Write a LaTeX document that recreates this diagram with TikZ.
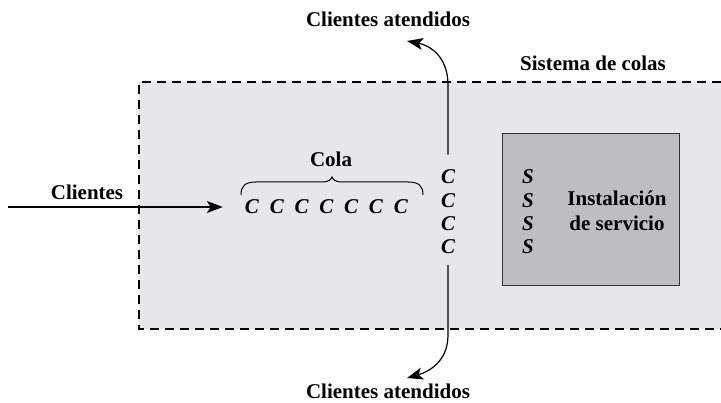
\documentclass[tikz,border=0pt]{standalone}
\usepackage{fontspec}
\setmainfont{Liberation Serif}
\usetikzlibrary{arrows.meta}

\definecolor{sysgray}{RGB}{230,231,232}
\definecolor{srvgray}{RGB}{188,190,192}

\begin{document}
\begin{tikzpicture}[
x=1pt, y=-1pt,
lbl/.style={inner sep=0pt, font=\fontsize{21}{24.5}\selectfont\bfseries},
unit/.style={inner sep=0pt, font=\fontsize{21}{24.5}\selectfont\bfseries\itshape},
arrow/.style={line width=1.2pt, -{Stealth[length=16pt, width=12pt, inset=4pt]}}
]
\useasboundingbox (0,0) rectangle (721,403);

\fill[sysgray] (139,82) rectangle (721,329);
\draw[line width=1.3pt, dash pattern=on 9pt off 6pt] (721,82) -- (139,82) -- (139,329) -- (721,329);
\node (facility) [draw=black!80, line width=1pt, fill=srvgray, minimum width=177pt, minimum height=152pt, inner sep=0pt] at (590.5,210) {};


\node (system) [lbl] at (593,63) {Sistema de colas};
\node (arrivals) [lbl] at (87,192) {Clientes};
\node (queue) [lbl] at (331,159) {Cola};
\node (servedtop) [lbl] at (388,19) {Clientes atendidos};
\node (servedbot) [lbl] at (388,391) {Clientes atendidos};
\node (facilitytext) [lbl, align=center] at (617,211) {Instalación\\de servicio};

\foreach \i in {0,...,6}
  \node (c\i) [unit] at ({252+24.8*\i},207) {C};
\foreach \i in {1,...,4} {
  \node (q\i) [unit] at (448,{177+23.3*(\i-1)}) {C};
  \node (s\i) [unit] at (528,{177+23.3*(\i-1)}) {S};
}

\draw[line width=1pt] (241,195) .. controls (241,186) and (245,182) .. (256,182) -- (322,182) .. controls (328,182) and (331,180) .. (332,177) .. controls (333,180) and (336,182) .. (342,182) -- (408,182) .. controls (419,182) and (423,186) .. (423,195);


\coordinate (entry) at (8,207);
\coordinate (toptip) at (407,41);
\coordinate (bottip) at (407,378);

\draw[arrow, shorten >=22pt] (entry) -- (c0.west);
\draw[arrow, shorten <=15pt] (q1.north) -- (448,85) .. controls (448,55) and (428,45) .. (toptip);
\draw[arrow, shorten <=11pt] (q4.south) -- (448,335) .. controls (448,362) and (428,372) .. (bottip);

\end{tikzpicture}
\end{document}
